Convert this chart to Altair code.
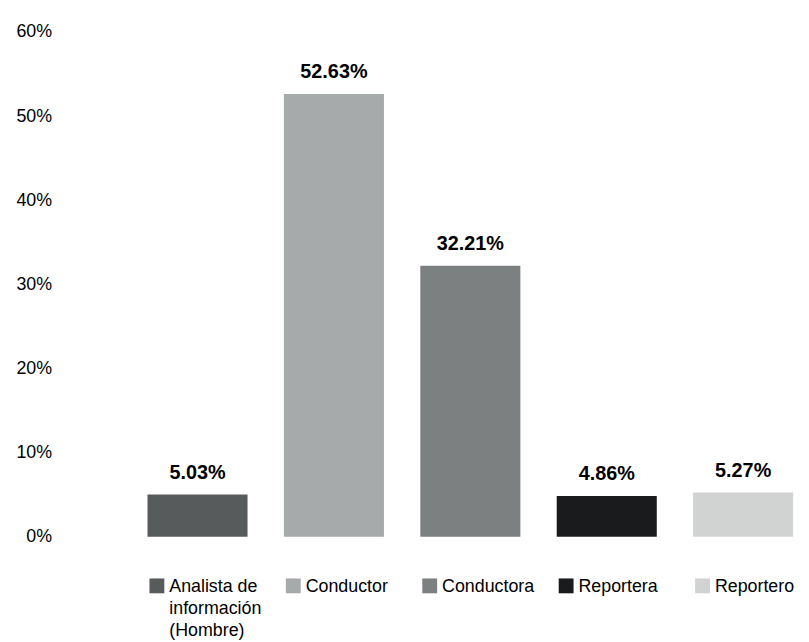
import altair as alt
import pandas as pd

categories = ["Analista de\ninformación\n(Hombre)", "Conductor", "Conductora", "Reportera", "Reportero"]
values = [5.03, 52.63, 32.21, 4.86, 5.27]
colors = ["#585b5c", "#a7aaab", "#7d8080", "#191b1d", "#d1d2d2"]
y_ticks = [0, 10, 20, 30, 40, 50, 60]

df = pd.DataFrame({"cat": categories, "value": values})

FONT = "Liberation Sans"

x_enc = alt.X("cat:N", sort=categories, axis=None,
              scale=alt.Scale(paddingInner=0.2665, paddingOuter=0.05))
color_enc = alt.Color("cat:N", scale=alt.Scale(domain=categories, range=colors), legend=None)

base = alt.Chart(df)

bars = base.mark_bar().encode(
    x=x_enc,
    y=alt.Y("value:Q", scale=alt.Scale(domain=[0, 60], nice=False),
            axis=alt.Axis(values=y_ticks, labelExpr="datum.value + '%'", domain=False,
                          ticks=False, grid=False, labelPadding=90, labelFontSize=18,
                          labelFont=FONT, labelColor="#000000", title=None)),
    color=color_enc,
)

labels = base.transform_calculate(
    lbl="format(datum.value, '.2f') + '%'"
).mark_text(dy=-16, baseline="alphabetic", fontSize=20, fontWeight="bold",
            font=FONT, color="#000000").encode(
    x=x_enc,
    y=alt.Y("value:Q"),
    text="lbl:N",
)

x_start = alt.X("cat:N", sort=categories, axis=None, bandPosition=0,
                scale=alt.Scale(paddingInner=0.2665, paddingOuter=0.05))

swatches = base.mark_square(size=225, opacity=1, xOffset=9.5).encode(
    x=x_start,
    y=alt.value(559.5),
    color=color_enc,
)

legend_text = base.mark_text(align="left", baseline="alphabetic", dx=22, fontSize=18,
                             font=FONT, color="#000000", lineBreak="\n",
                             lineHeight=22).encode(
    x=x_start,
    y=alt.value(566),
    text="cat:N",
)

chart = alt.layer(bars, labels, swatches, legend_text).properties(
    width=666, height=510,
    autosize=alt.AutoSizeParams(type="none"),
    padding={"left": 134, "top": 21, "right": 1, "bottom": 104},
).configure_view(stroke=None)

chart.save("out.html", embed_options={"renderer": "svg", "actions": False})
